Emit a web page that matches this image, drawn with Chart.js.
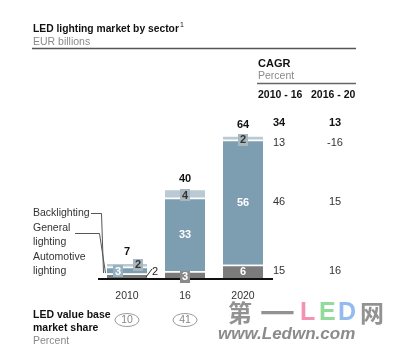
<!DOCTYPE html>
<html>
<head>
<meta charset="utf-8">
<script src="https://cdn.jsdelivr.net/npm/chart.js@4.4.0/dist/chart.umd.min.js"></script>
<style>
html, body { margin: 0; padding: 0; background: #fff; }
#wrap { position: relative; width: 406px; height: 353px; }
</style>
</head>
<body>
<div id="wrap"><canvas id="chart" width="406" height="353"></canvas></div>
<script>
// ---------- data ----------
const years = ["2010", "16", "2020"];
const automotive = [2, 3, 6];
const general = [3, 33, 56];
const backlighting = [2, 4, 2];
const totals = [7, 40, 64];
const shareLabels = ["10", "41"];
const cagrHeaders = ["2010 - 16", "2016 - 20"];
const cagrTotal = ["34", "13"];
const cagrBack = ["13", "-16"];
const cagrGeneral = ["46", "15"];
const cagrAuto = ["15", "16"];

const FONT = "'Liberation Sans', Arial, sans-serif";
const C_AUTO = "#7b7b7b";
const C_GEN = "#7d9db1";
const C_BACK = "#b9cad4";

// label boxes: key = dataset-index
const boxStyle = {
  "1-0": { fill: "#95b1c2", color: "#fff", dx: -9, dy: 1 },
  "2-0": { fill: "#a8b6be", color: "#333", dx: 11, dy: 0 },
  "0-1": { fill: "#8a8a8a", color: "#fff", dx: 0, dy: 2 },
  "2-1": { fill: "#a8b6be", color: "#333", dx: 0, dy: 2 },
  "2-2": { fill: "#a8b6be", color: "#333", dx: 0, dy: 2 }
};

function txt(ctx, s, x, y, opt) {
  opt = opt || {};
  ctx.font = (opt.style || "") + " " + (opt.bold ? "bold " : "") + (opt.size || 11) + "px " + (opt.family || FONT);
  ctx.fillStyle = opt.color || "#222";
  ctx.textAlign = opt.align || "left";
  ctx.textBaseline = "middle";
  ctx.fillText(s, x, y);
}

function line(ctx, pts, color, w) {
  ctx.beginPath();
  ctx.moveTo(pts[0][0], pts[0][1]);
  for (let i = 1; i < pts.length; i++) ctx.lineTo(pts[i][0], pts[i][1]);
  ctx.strokeStyle = color;
  ctx.lineWidth = w;
  ctx.stroke();
}

const decor = {
  id: "decor",
  afterDatasetsDraw(chart) {
    const ctx = chart.ctx;
    const xs = chart.scales.x, ys = chart.scales.y;
    const base = ys.getPixelForValue(0);
    ctx.save();

    // header
    txt(ctx, "LED lighting market by sector", 33, 29, { bold: true, size: 10.3, color: "#111" });
    ctx.font = "bold 10.3px " + FONT;
    const tw = ctx.measureText("LED lighting market by sector").width;
    txt(ctx, "1", 33 + tw + 1, 25, { size: 7, color: "#111" });
    txt(ctx, "EUR billions", 33, 42, { size: 10.5, color: "#8a8a8a" });
    line(ctx, [[32, 48.5], [356, 48.5]], "#555", 1.5);

    // CAGR table
    txt(ctx, "CAGR", 258, 64, { bold: true, size: 11, color: "#111" });
    txt(ctx, "Percent", 258, 76, { size: 10.5, color: "#8a8a8a" });
    line(ctx, [[257, 83.5], [356, 83.5]], "#666", 1.5);
    txt(ctx, cagrHeaders[0], 258, 95, { bold: true, size: 10.5, color: "#111" });
    txt(ctx, cagrHeaders[1], 311, 95, { bold: true, size: 10.5, color: "#111" });
    const colX = [279, 335];
    [[cagrTotal, 123, true], [cagrBack, 143, false], [cagrGeneral, 202, false], [cagrAuto, 271, false]].forEach(r => {
      r[0].forEach((v, i) => txt(ctx, v, colX[i], r[1], { bold: r[2], size: 11, align: "center", color: r[2] ? "#111" : "#333" }));
    });

    // baseline
    line(ctx, [[xs.left, base + 1], [xs.right + 1, base + 1]], "#111", 2);

    // segment labels
    const vals = [automotive, general, backlighting];
    for (let d = 0; d < 3; d++) {
      const meta = chart.getDatasetMeta(d);
      meta.data.forEach((bar, i) => {
        const key = d + "-" + i;
        const v = String(vals[d][i]);
        if (key === "0-0") {
          // 2010 automotive value sits outside the bar
          line(ctx, [[bar.x + 19, base - 1], [bar.x + 25, base - 9]], "#333", 1);
          txt(ctx, v, bar.x + 28, base - 6, { size: 11, align: "center", color: "#222" });
          return;
        }
        const st = boxStyle[key];
        const cx = bar.x + (st ? st.dx : 0);
        const cy = (bar.y + bar.base) / 2 + (st ? st.dy : 0);
        if (st) {
          ctx.font = "bold 11px " + FONT;
          const w = ctx.measureText(v).width + 4;
          ctx.fillStyle = st.fill;
          ctx.fillRect(Math.round(cx - w / 2), Math.round(cy - 6), Math.round(w), 12);
          txt(ctx, v, cx, cy + 0.5, { bold: true, size: 11, align: "center", color: st.color });
        } else {
          txt(ctx, v, cx, cy + 0.5, { bold: true, size: 11, align: "center", color: "#fff" });
        }
      });
    }

    // totals
    totals.forEach((t, i) => {
      const x = xs.getPixelForValue(i);
      txt(ctx, String(t), x, ys.getPixelForValue(t) - 10, { bold: true, size: 11, align: "center", color: "#111" });
    });

    // category labels
    years.forEach((y, i) => {
      txt(ctx, y, xs.getPixelForValue(i), 296, { size: 10.5, align: "center", color: "#333" });
    });

    // legend
    txt(ctx, "Backlighting", 33, 213, { size: 10.5, color: "#333" });
    txt(ctx, "General", 33, 228, { size: 10.5, color: "#333" });
    txt(ctx, "lighting", 33, 242, { size: 10.5, color: "#333" });
    txt(ctx, "Automotive", 33, 257, { size: 10.5, color: "#333" });
    txt(ctx, "lighting", 33, 271, { size: 10.5, color: "#333" });
    line(ctx, [[91, 213.5], [101.5, 213.5], [103.5, base - 5]], "#555", 1);
    line(ctx, [[75, 233.5], [99.5, 233.5], [105.5, base - 5]], "#555", 1);

    // market share
    txt(ctx, "LED value base", 33, 315, { bold: true, size: 10.5, color: "#111" });
    txt(ctx, "market share", 33, 328, { bold: true, size: 10.5, color: "#111" });
    txt(ctx, "Percent", 33, 341, { size: 10.5, color: "#8a8a8a" });
    shareLabels.forEach((s, i) => {
      const x = xs.getPixelForValue(i);
      ctx.beginPath();
      ctx.ellipse(x, 320, 12, 6.5, 0, 0, Math.PI * 2);
      ctx.strokeStyle = "#9a9a9a";
      ctx.lineWidth = 1;
      ctx.stroke();
      txt(ctx, s, x, 320.5, { size: 10.5, align: "center", color: "#888" });
    });

    // watermark
    const cjk = "'Noto Sans CJK SC', sans-serif";
    const wmGray = "rgba(110,110,110,0.75)";
    txt(ctx, "第", 228, 313, { bold: true, size: 24, family: cjk, color: wmGray });
    ctx.save();
    ctx.translate(260, 313);
    ctx.scale(1.45, 1);
    txt(ctx, "一", 0, 0, { bold: true, size: 24, family: cjk, color: wmGray });
    ctx.restore();
    txt(ctx, "L", 300, 313, { bold: true, size: 25, color: "rgba(240,120,160,0.8)" });
    txt(ctx, "E", 319, 313, { bold: true, size: 25, color: "rgba(120,210,130,0.8)" });
    txt(ctx, "D", 338, 313, { bold: true, size: 25, color: "rgba(120,170,235,0.8)" });
    txt(ctx, "网", 360, 313, { bold: true, size: 24, family: cjk, color: wmGray });
    txt(ctx, "www.Ledwn.com", 218, 334, { style: "italic", bold: true, size: 17, color: "rgba(110,110,110,0.8)" });

    ctx.restore();
  }
};

new Chart(document.getElementById("chart"), {
  type: "bar",
  data: {
    labels: years,
    datasets: [
      { label: "Automotive lighting", data: automotive, backgroundColor: C_AUTO },
      { label: "General lighting", data: general, backgroundColor: C_GEN },
      { label: "Backlighting", data: backlighting, backgroundColor: C_BACK }
    ].map(ds => Object.assign(ds, {
      borderColor: "#fff",
      borderWidth: { top: 1.5, left: 0, right: 0, bottom: 0 },
      borderSkipped: false,
      barPercentage: 1,
      categoryPercentage: 0.69
    }))
  },
  options: {
    responsive: false,
    animation: false,
    events: [],
    layout: { padding: { top: 122, bottom: 75, left: 98, right: 134 } },
    scales: {
      x: { stacked: true, display: false },
      y: { stacked: true, display: false, min: 0, max: 70 }
    },
    plugins: { legend: { display: false }, tooltip: { enabled: false } }
  },
  plugins: [decor]
});
</script>
</body>
</html>
